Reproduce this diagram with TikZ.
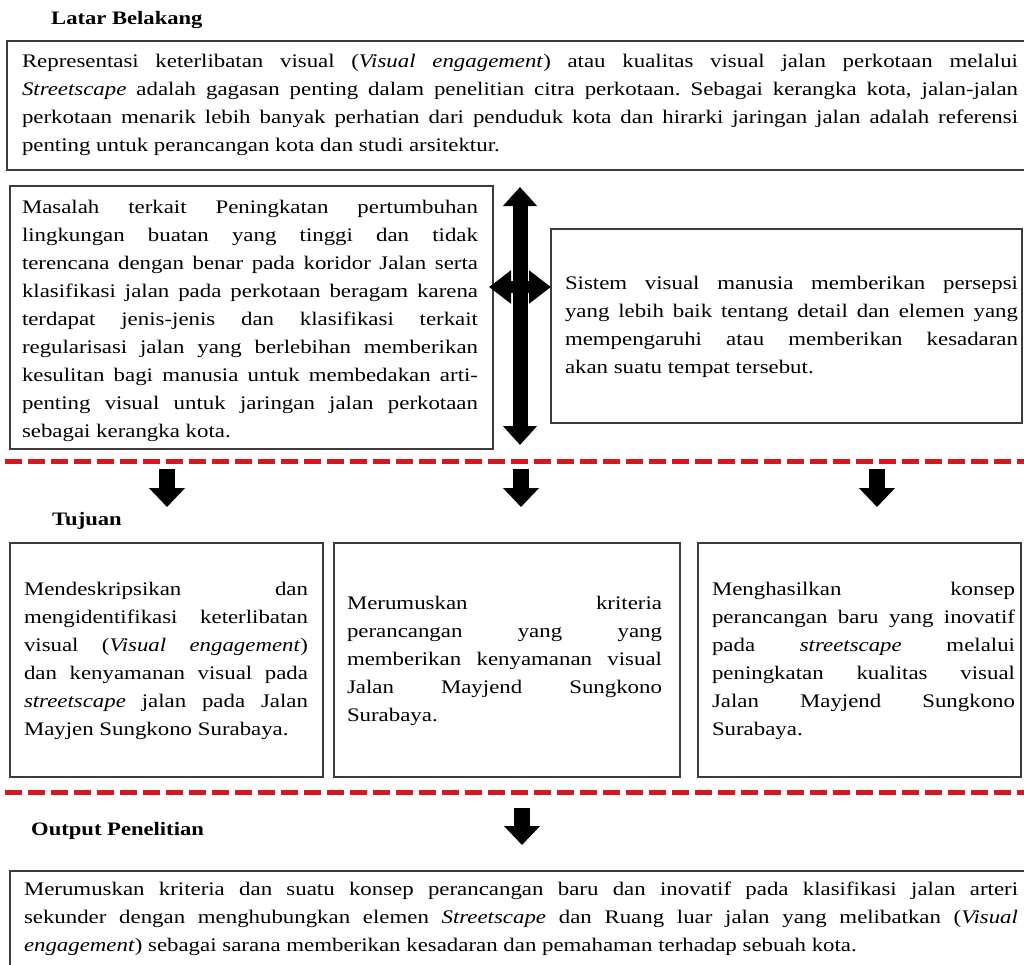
\documentclass[tikz,border=0pt]{standalone}
\usepackage{fontspec}
\setmainfont{Liberation Serif}[FakeStretch=1.19]
\usetikzlibrary{arrows.meta}
\definecolor{merah}{RGB}{214,24,30}
\definecolor{garis}{RGB}{60,60,60}
\tikzset{
  every node/.append style={font=\fontsize{19.2}{28}\selectfont},
  kotak/.style={draw=garis, line width=1.3pt},
  blok/.style={text width=#1, align=justify, inner sep=0pt},
  judul/.style={anchor=west, inner sep=0pt, font=\fontsize{19}{28}\selectfont\bfseries},
  pemisah/.style={draw=merah, line width=5pt, dash pattern=on 17pt off 6pt},
  panah/.style={line width=16pt, -{Triangle[width=35pt,length=19pt]}},
}
\hyphenpenalty=10000
\frenchspacing
\begin{document}
\begin{tikzpicture}[x=1pt,y=-1pt]
\useasboundingbox (0,0) rectangle (1024,964);
\clip (0,0) rectangle (1024,964);
% kotak-kotak
\foreach \xa/\ya/\xb/\yb in {7/41/1034/170, 10/186/493/449, 551/229/1022/423,
  10/543/323/777, 334/543/680/777, 698/543/1021/777, 10/871/1034/980}
  \draw[kotak] (\xa,\ya) rectangle (\xb,\yb);

% judul
\node[judul] (latar) at (51,20) {Latar Belakang};
\node[judul] (tujuan) at (52,521) {Tujuan};
\node[judul] (output) at (31,831) {Output  Penelitian};

% latar belakang
\node[blok=996pt] (representasi) at (520,105) {Representasi keterlibatan visual (\textit{Visual engagement}) atau kualitas visual jalan perkotaan melalui\linebreak
\textit{Streetscape} adalah gagasan penting dalam penelitian citra perkotaan. Sebagai kerangka kota, jalan-jalan\linebreak
perkotaan menarik lebih banyak perhatian dari penduduk kota dan hirarki jaringan jalan adalah referensi\linebreak
penting untuk perancangan kota dan studi arsitektur.};
\node[blok=456pt] (masalah) at (250,321) {Masalah terkait Peningkatan pertumbuhan\linebreak
lingkungan buatan yang tinggi dan tidak\linebreak
terencana dengan benar pada koridor Jalan serta\linebreak
klasifikasi jalan pada perkotaan beragam karena\linebreak
terdapat jenis-jenis dan klasifikasi terkait\linebreak
regularisasi jalan yang berlebihan memberikan\linebreak
kesulitan bagi manusia untuk membedakan arti-\linebreak
penting visual untuk jaringan jalan perkotaan\linebreak
sebagai kerangka kota.};
\node[blok=453pt] (sistem) at (791.5,327) {Sistem visual manusia memberikan persepsi\linebreak
yang lebih baik tentang detail dan elemen yang\linebreak
mempengaruhi atau memberikan kesadaran\linebreak
akan suatu tempat tersebut.};

% tujuan
\node[blok=284pt] (tujuanA) at (166,661) {Mendeskripsikan dan\linebreak
mengidentifikasi keterlibatan\linebreak
visual (\textit{Visual engagement})\linebreak
dan kenyamanan visual pada\linebreak
\textit{streetscape} jalan pada Jalan\linebreak
Mayjen Sungkono Surabaya.};
\node[blok=315pt] (tujuanB) at (504.5,661) {Merumuskan kriteria\linebreak
perancangan yang yang\linebreak
memberikan kenyamanan visual\linebreak
Jalan Mayjend Sungkono\linebreak
Surabaya.};
\node[blok=303pt] (tujuanC) at (863.5,661) {Menghasilkan konsep\linebreak
perancangan baru yang inovatif\linebreak
pada \textit{streetscape} melalui\linebreak
peningkatan kualitas visual\linebreak
Jalan Mayjend Sungkono\linebreak
Surabaya.};

% output
\node[blok=994pt] (hasil) at (521,919) {Merumuskan kriteria dan suatu konsep perancangan baru dan inovatif pada klasifikasi jalan arteri\linebreak
sekunder dengan menghubungkan elemen \textit{Streetscape} dan Ruang luar jalan yang melibatkan (\textit{Visual\linebreak
engagement}) sebagai sarana memberikan kesadaran dan pemahaman terhadap sebuah kota.};

% garis pemisah
\draw[pemisah] (5,461) -- (1030,461);
\draw[pemisah] (5,792) -- (1030,792);

% panah dua arah
\coordinate (atasV) at (520,187);
\coordinate (bawahV) at (520,445);
\coordinate (kiriH) at (489,287);
\coordinate (kananH) at (551,287);
\draw[line width=15pt, {Triangle[width=33pt,length=19pt]}-{Triangle[width=33pt,length=19pt]}] (atasV) -- (bawahV);
\draw[line width=12pt, {Triangle[width=32pt,length=22pt]}-{Triangle[width=32pt,length=22pt]}] (kiriH) -- (kananH);

% panah ke bawah
\foreach \x in {167,521,877}
  \draw[panah] (\x,469) -- (\x,507);
\draw[panah] (522,808) -- (522,845);
\end{tikzpicture}
\end{document}
